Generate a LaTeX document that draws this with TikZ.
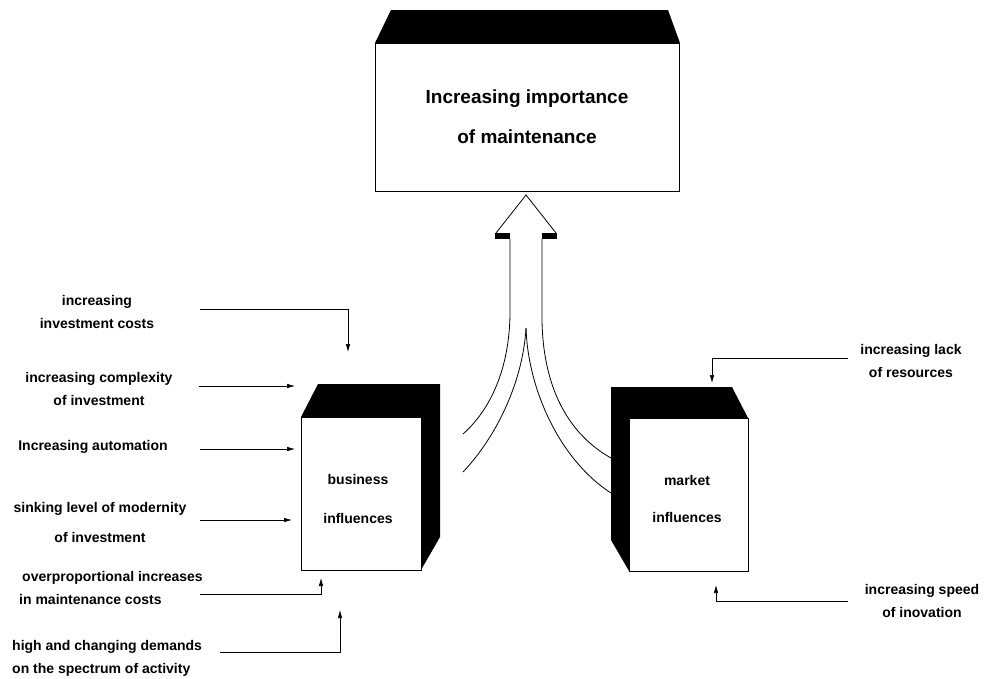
\documentclass[tikz,border=0pt]{standalone}
\usepackage{fontspec}
\setmainfont{Liberation Sans}
\usetikzlibrary{arrows.meta}
\begin{document}
\begin{tikzpicture}[x=1pt,y=-1pt,
  lbl/.style={font=\bfseries\fontsize{14}{23}\selectfont, align=center, inner sep=0pt},
  lblL/.style={lbl, align=left, anchor=west},
  big/.style={font=\bfseries\fontsize{19}{40}\selectfont, align=center, inner sep=0pt},
  face/.style={draw=black, line width=0.8pt, fill=white, inner sep=0pt},
  shade/.style={fill=black},
  arr/.style={line width=0.7pt, -{Latex[length=8pt,width=4.5pt]}},
  flow/.style={line width=0.8pt}]
\useasboundingbox (0,0) rectangle (984,678);

% ---- top box
\fill[shade] (375,43) -- (391,10) -- (668,10) -- (680,43) -- cycle;
\node[face, minimum width=304pt, minimum height=148pt] (top) at (527,117) {};
\node[big] (toptext) at (527,117) {Increasing importance\\of maintenance};

% ---- business box
\fill[shade] (301,417) -- (318,384) -- (440,384) -- (440,537) -- (421,570) -- (421,417) -- cycle;
\node[face, minimum width=120pt, minimum height=153pt] (bus) at (361,493.5) {};
\node[lbl, font=\bfseries\fontsize{14}{39}\selectfont] (bustext) at (358,498.5) {business\\influences};

% ---- market box
\fill[shade] (611,387) -- (732,387) -- (748,418) -- (629,418) -- (629,571) -- (611,540) -- cycle;
\node[face, minimum width=119pt, minimum height=153pt] (mkt) at (688.5,494.5) {};
\node[lbl, font=\bfseries\fontsize{14}{37}\selectfont] (mkttext) at (687,498.5) {market\\influences};

% ---- big arrow
\coordinate (tip) at (526,195);
\coordinate (hl) at (496,233);
\coordinate (hr) at (556,233);
\draw[flow] (hl) -- (tip) -- (hr);
\fill[shade] (495,233) rectangle (510,239);
\fill[shade] (542,233) rectangle (557,239);
\coordinate (sl) at (510,239);
\coordinate (sr) at (542,239);
\coordinate (cusp) at (526,328);
\coordinate (el1) at (463,434);
\coordinate (el2) at (463,472);
\coordinate (er1) at (611,458);
\coordinate (er2) at (611,493);
\draw[flow] (sl) -- (510,315) .. controls (509,370) and (490,410) .. (el1);
\draw[flow] (sr) -- (542,320) .. controls (543,390) and (570,435) .. (er1);
\draw[flow] (cusp) .. controls (523,380) and (498,435) .. (el2);
\draw[flow] (cusp) .. controls (528,390) and (560,460) .. (er2);

% ---- left labels
\node[lbl] (l1) at (97,312) {increasing\\investment costs};
\node[lbl] (l2) at (99,389) {increasing complexity\\of investment};
\node[lbl] (l3) at (93,447) {Increasing automation};
\node[lbl, font=\bfseries\fontsize{14}{30}\selectfont] (l4) at (100,522) {sinking level of modernity\\of investment};
\node[lblL] (l5) at (19,588) {\hspace*{3pt}overproportional increases\\in maintenance costs};
\node[lblL] (l6) at (12,658) {high and changing demands\\on the spectrum of activity};

% ---- right labels
\node[lbl] (r1) at (911,361) {increasing lack\\of resources};
\node[lbl] (r2) at (922,601) {increasing speed\\of inovation};

% ---- connectors
\coordinate (a1s) at (200,309); \coordinate (a1e) at (348,352);
\coordinate (a2s) at (199,386); \coordinate (a2e) at (295,386);
\coordinate (a3s) at (200,449); \coordinate (a3e) at (295,449);
\coordinate (a4s) at (200,520); \coordinate (a4e) at (292,520);
\coordinate (a5s) at (200,594); \coordinate (a5e) at (321,578);
\coordinate (a6s) at (220,652); \coordinate (a6e) at (340,610);
\coordinate (a7s) at (848,358); \coordinate (a7e) at (712,383);
\coordinate (a8s) at (848,601); \coordinate (a8e) at (716,585);
\draw[arr] (a1s) -| (a1e);
\draw[arr] (a2s) -- (a2e);
\draw[arr] (a3s) -- (a3e);
\draw[arr] (a4s) -- (a4e);
\draw[arr] (a5s) -| (a5e);
\draw[arr] (a6s) -| (a6e);
\draw[arr] (a7s) -| (a7e);
\draw[arr] (a8s) -| (a8e);
\end{tikzpicture}
\end{document}
